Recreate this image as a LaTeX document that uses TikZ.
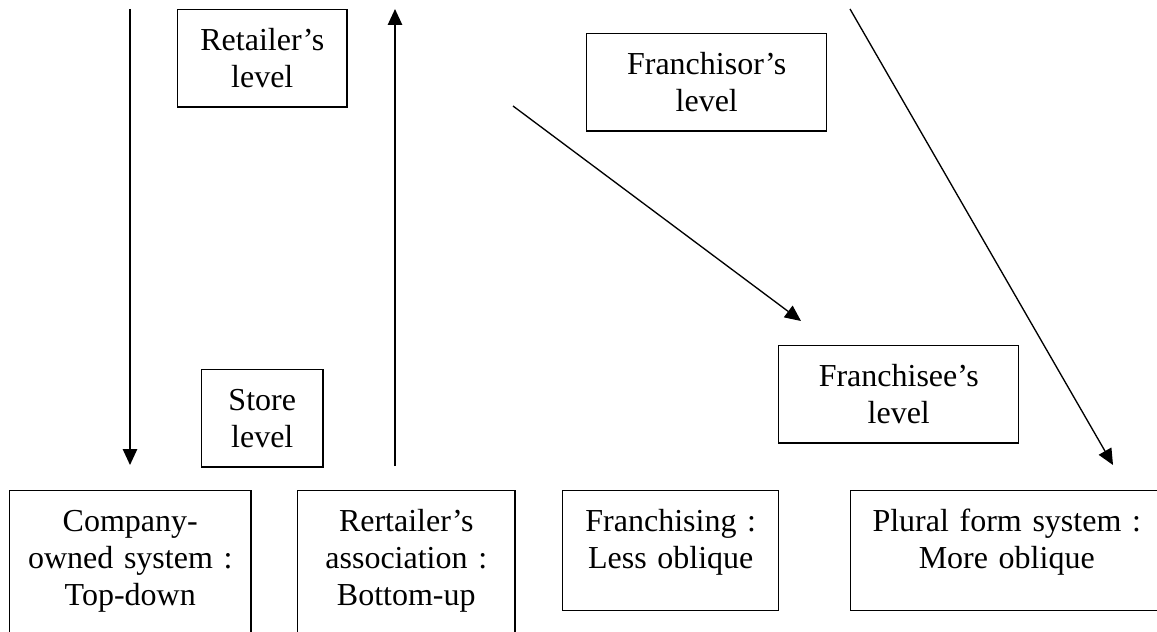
\documentclass[tikz,border=0pt]{standalone}
\usepackage{fontspec}
\setmainfont{Liberation Serif}
\usetikzlibrary{arrows.meta}
\tikzstyle{line} = [draw, -{Triangle[length=6pt,width=5.4pt]}, line width=0.5pt]
\tikzstyle{lvlbox} = [draw, rectangle, anchor=north west, align=center, inner xsep=0pt, inner ysep=3pt, text height=12.4pt, text depth=18pt, line width=0.55pt, font=\fontsize{12}{13.8}\selectfont]
\tikzstyle{sysbox} = [lvlbox, text depth=26.6pt]
\tikzstyle{sysbox2} = [lvlbox, text depth=42.4pt]

\begin{document}
\begin{tikzpicture}[x=0.375pt, y=-0.375pt]
    \useasboundingbox (0,0) rectangle (1157,631);
    \clip (0,0) rectangle (1157,631);
    % levels
    \node [lvlbox, text width=63.4pt] (idx0) at (177,9) {Retailer’s\\level};
    \node [lvlbox, text width=90pt] (idx1) at (586,33) {Franchisor’s\\level};
    \node [lvlbox, text width=45.4pt] (idx2) at (201,369) {Store\\level};
    \node [lvlbox, text width=90pt] (idx3) at (778,345) {Franchisee’s\\level};
    % systems
    \node [sysbox2, text width=90.4pt] (idx4) at (9,490) {Company-\\owned system :\\Top-down};
    \node [sysbox2, text width=81.4pt] (idx5) at (297,490) {Rertailer’s\\association :\\Bottom-up};
    \node [sysbox, text width=81pt] (idx6) at (562,490) {Franchising :\\Less oblique};
    \node [sysbox, text width=117pt] (idx7) at (850,490) {Plural form system :\\More oblique};
    % arrows
    \coordinate (a0) at (130,9);
    \coordinate (a1) at (130,465);
    \coordinate (b0) at (395,466);
    \coordinate (b1) at (395,9);
    \coordinate (c0) at (513,106);
    \coordinate (c1) at (801,321);
    \coordinate (d0) at (850,9);
    \coordinate (d1) at (1113,465);
    \path [line, line width=0.6pt] (a0) -- (a1);
    \path [line, line width=0.6pt] (b0) -- (b1);
    \path [line] (c0) -- (c1);
    \path [line] (d0) -- (d1);
\end{tikzpicture}
\end{document}
